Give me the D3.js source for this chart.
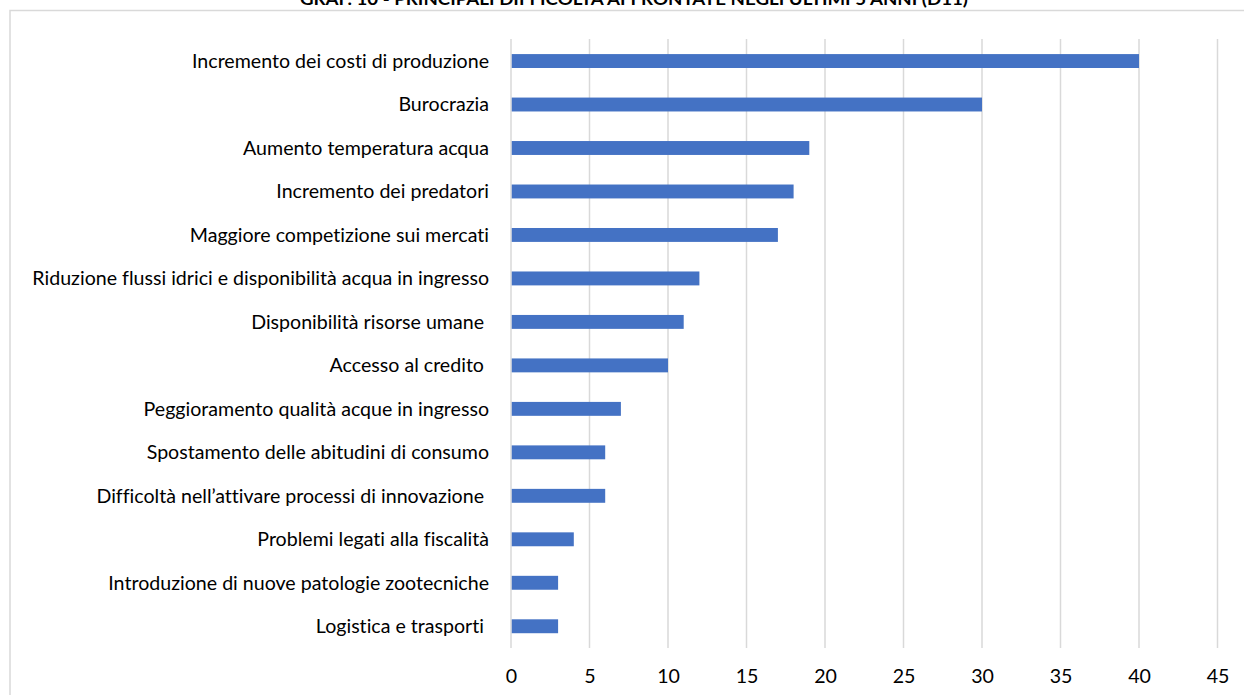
<!DOCTYPE html>
<html><head><meta charset="utf-8">
<script src="https://cdn.jsdelivr.net/npm/d3@7"></script>
<style>html,body{margin:0;padding:0;background:#fff;overflow:hidden} text{font-variant-ligatures:none;font-feature-settings:"liga" 0,"dlig" 0}</style>
</head><body>
<svg id="c" width="1244" height="695"></svg>
<script>
const title = "GRAF. 10 - PRINCIPALI DIFFICOLTÀ AFFRONTATE NEGLI ULTIMI 5 ANNI (D11)";
const categories = [
  "Incremento dei costi di produzione",
  "Burocrazia",
  "Aumento temperatura acqua",
  "Incremento dei predatori",
  "Maggiore competizione sui mercati",
  "Riduzione flussi idrici e disponibilità acqua in ingresso",
  "Disponibilità risorse umane ",
  "Accesso al credito ",
  "Peggioramento qualità acque in ingresso",
  "Spostamento delle abitudini di consumo",
  "Difficoltà nell’attivare processi di innovazione ",
  "Problemi legati alla fiscalità",
  "Introduzione di nuove patologie zootecniche",
  "Logistica e trasporti "
];
const values = [40, 30, 19, 18, 17, 12, 11, 10, 7, 6, 6, 4, 3, 3];
const tickValues = [0, 5, 10, 15, 20, 25, 30, 35, 40, 45];

const svg = d3.select("#c");
const font = "Lato, 'Open Sans', sans-serif";

// frame
svg.append("rect").attr("x", 10).attr("y", 10.5).attr("width", 1260).attr("height", 700)
  .attr("fill", "none").attr("stroke", "#d9d9d9").attr("stroke-width", 1.5);

// title (clipped at top, as in the reference)
svg.append("text").attr("x", 634).attr("y", 5).attr("text-anchor", "middle")
  .attr("font-family", font).attr("font-weight", "bold").attr("font-size", 17)
  .attr("textLength", 668).attr("lengthAdjust", "spacingAndGlyphs")
  .attr("fill", "#000").text(title);

const x = d3.scaleLinear().domain([0, 45]).range([511, 1217.5]);
const y = d3.scaleBand().domain(categories).range([39.3, 648]).paddingInner(0.68).paddingOuter(0.34);

// gridlines
svg.append("g").selectAll("line").data(tickValues).join("line")
  .attr("x1", d => x(d)).attr("x2", d => x(d))
  .attr("y1", 39).attr("y2", 648)
  .attr("stroke", "#d9d9d9").attr("stroke-width", 1.5);

// bars
svg.append("g").selectAll("rect").data(values).join("rect")
  .attr("x", x(0) + 0.75)
  .attr("y", (d, i) => y(categories[i]))
  .attr("width", d => x(d) - x(0) - 0.75)
  .attr("height", y.bandwidth())
  .attr("fill", "#4472c4");

// category labels
svg.append("g").selectAll("text").data(categories).join("text")
  .attr("x", 489).attr("y", d => y(d) + y.bandwidth() / 2)
  .attr("dy", "0.35em").attr("text-anchor", "end")
  .attr("font-family", font).attr("font-size", 19.6).attr("fill", "#000")
  .style("white-space", "pre")
  .text(d => d);

// x axis labels
const xAxis = d3.axisBottom(x).tickValues(tickValues).tickSize(0).tickPadding(0);
const gx = svg.append("g").attr("transform", "translate(0,669)").call(xAxis);
gx.select(".domain").remove();
gx.selectAll("text").attr("font-family", font).attr("font-size", 19.6).attr("fill", "#000");
</script>
</body></html>
